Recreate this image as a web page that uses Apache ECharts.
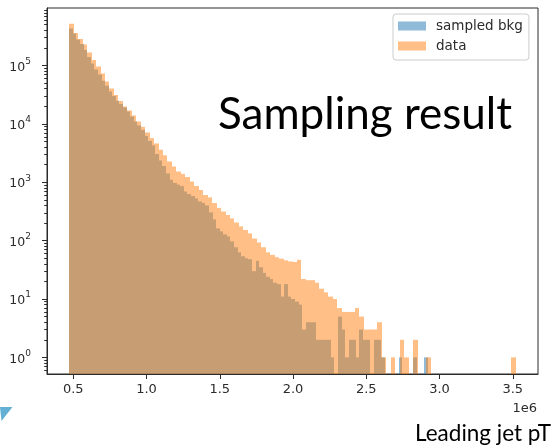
<!DOCTYPE html>
<html>
<head>
<meta charset="utf-8">
<script src="https://cdn.jsdelivr.net/npm/echarts@6/dist/echarts.min.js"></script>
<style>
  html, body { margin: 0; padding: 0; background: #ffffff; }
  #chart { width: 552px; height: 447px; }
</style>
</head>
<body>
<div id="chart"></div>
<script>
// Leading jet pT: sampled background vs. data, 100 bins each, log counts

const seriesNames = ['sampled bkg', 'data'];

// histogram ranges (x in units of pT); each sample is binned over its own range
const bkgRange = [473000, 2918000];
const dataRange = [473000, 3520000];

const bkgCounts = [
  430000, 353000, 279000, 233000, 184000, 140000, 108000, 85000, 70000, 55000,
  45000, 36000, 30000, 25000, 21900, 19000, 16300, 13400, 11000, 9400,
  7900, 6200, 5100, 4270, 3050, 2360, 1900, 1410, 1100, 973,
  910, 858, 695, 630, 582, 528, 469, 442, 401, 304,
  231, 162, 144, 128, 118, 97, 77, 63, 54, 50,
  48, 30, 45, 35, 28, 24, 22, 19, 18, 11,
  18, 11, 10, 9, 8, 3, 4, 4, 4, 2,
  2, 2, 2, 1, 0, 5, 3, 1, 2, 2,
  1, 3, 2, 2, 0, 2, 2, 1, 0, 0,
  0, 0, 1, 0, 0, 0, 1, 0, 0, 1
];

const dataCounts = [
  520000, 360000, 285000, 229000, 167000, 124000, 96000, 73000, 53000, 40400,
  31300, 24700, 19900, 17000, 13900, 11000, 8900, 7100, 5700, 4600,
  3600, 2900, 2270, 1860, 1530, 1390, 1230, 1030, 865, 738,
  606, 550, 443, 363, 316, 275, 240, 205, 175, 152,
  133, 109, 93, 77, 63, 57, 52, 49, 46, 44,
  43, 47, 22, 21, 21, 19, 15, 13, 11, 10,
  7, 6, 6, 6, 7, 5, 3, 3, 3, 4,
  1, 0, 1, 0, 2, 1, 0, 2, 0, 0,
  1, 0, 0, 0, 0, 0, 0, 0, 0, 0,
  0, 0, 0, 0, 0, 0, 0, 0, 0, 1
];

const xTickValues = [500000, 1000000, 1500000, 2000000, 2500000, 3000000, 3500000];
const yTickValues = [1, 10, 100, 1000, 10000, 100000];
const yMinorTickValues = [
  0.6, 0.7, 0.8, 0.9,
  2, 3, 4, 5, 6, 7, 8, 9,
  20, 30, 40, 50, 60, 70, 80, 90,
  200, 300, 400, 500, 600, 700, 800, 900,
  2000, 3000, 4000, 5000, 6000, 7000, 8000, 9000,
  20000, 30000, 40000, 50000, 60000, 70000, 80000, 90000,
  200000, 300000, 400000, 500000, 600000, 700000, 800000, 900000
];

// turn counts into [left edge, right edge, count] records
function toBins(range, counts) {
  const n = counts.length;
  const w = (range[1] - range[0]) / n;
  return counts.map((c, i) => [range[0] + i * w, range[0] + (i + 1) * w, c]);
}

function histRenderer(fill) {
  return function (params, api) {
    const c = api.value(2);
    if (!(c > 0)) return null;
    const a = api.coord([api.value(0), c]);
    const b = api.coord([api.value(1), c]);
    const cs = params.coordSys;
    const bottom = cs.y + cs.height;
    const x0 = Math.round(a[0]);
    const x1 = Math.round(b[0]);
    return {
      type: 'rect',
      silent: true,
      shape: { x: x0, y: a[1], width: x1 - x0, height: bottom - a[1] },
      style: { fill: fill }
    };
  };
}

const MPL_FONT = 'DejaVu Sans';
const INK = '#2b2b2b';

const chart = echarts.init(document.getElementById('chart'), null, { renderer: 'canvas' });

const xMin = 321000, xMax = 3672000;
const yMin = 0.519, yMax = 966000;

chart.setOption({
  animation: false,
  backgroundColor: '#ffffff',
  grid: {
    left: 47, right: 14, top: 8, bottom: 73,
    show: true, borderColor: INK, borderWidth: 1, backgroundColor: 'transparent'
  },
  legend: {
    orient: 'vertical',
    left: 393, top: 14,
    padding: [5, 6, 7, 5],
    itemGap: 6,
    itemWidth: 28, itemHeight: 9,
    icon: 'rect',
    backgroundColor: 'rgba(255,255,255,0.8)',
    borderColor: '#cccccc', borderWidth: 1, borderRadius: 3,
    textStyle: { fontFamily: MPL_FONT, fontSize: 13.5, color: INK, padding: [0, 0, 0, 5] },
    data: [
      { name: seriesNames[0], itemStyle: { color: '#8fbbd9' } },
      { name: seriesNames[1], itemStyle: { color: '#ffbf86' } }
    ],
    selectedMode: false
  },
  xAxis: {
    type: 'value',
    min: xMin, max: xMax,
    splitLine: { show: false },
    axisLine: { show: true, lineStyle: { color: INK, width: 1 } },
    axisTick: { show: true, length: 5, lineStyle: { color: INK, width: 1 }, customValues: xTickValues },
    axisLabel: {
      customValues: xTickValues,
      margin: 9,
      fontFamily: MPL_FONT, fontSize: 13, color: INK,
      formatter: v => (v / 1e6).toFixed(1)
    }
  },
  yAxis: [
    {
      type: 'log', logBase: 10,
      min: yMin, max: yMax,
      position: 'left',
      splitLine: { show: false },
      axisLine: { show: true, lineStyle: { color: INK, width: 1 } },
      axisTick: { show: true, length: 5, lineStyle: { color: INK, width: 1 }, customValues: yTickValues },
      axisLabel: {
        customValues: yTickValues,
        margin: 16,
        color: INK,
        formatter: v => '{b|10}{s|' + Math.round(Math.log10(v)) + '}',
        rich: {
          b: { fontFamily: MPL_FONT, fontSize: 12.5, color: INK, lineHeight: 17, verticalAlign: 'bottom' },
          s: { fontFamily: MPL_FONT, fontSize: 9, color: INK, lineHeight: 10, verticalAlign: 'top' }
        }
      }
    },
    {
      type: 'log', logBase: 10,
      min: yMin, max: yMax,
      position: 'left',
      splitLine: { show: false },
      axisLine: { show: false },
      axisLabel: { show: false },
      axisTick: { show: true, length: 2.8, lineStyle: { color: INK, width: 1 }, customValues: yMinorTickValues }
    }
  ],
  series: [
    {
      name: seriesNames[0],
      type: 'custom',
      renderItem: histRenderer('rgba(31,119,180,0.5)'),
      encode: { x: [0, 1], y: 2 },
      data: toBins(bkgRange, bkgCounts),
      z: 2
    },
    {
      name: seriesNames[1],
      type: 'custom',
      renderItem: histRenderer('rgba(255,127,14,0.5)'),
      encode: { x: [0, 1], y: 2 },
      data: toBins(dataRange, dataCounts),
      z: 3
    }
  ],
  graphic: [
    {
      type: 'text', x: 218, y: 115, z: 10,
      style: { text: 'Sampling result', font: '44px Lato', fill: '#000000', align: 'left', verticalAlign: 'middle' }
    },
    {
      type: 'text', x: 537, y: 409, z: 10,
      style: { text: '1e6', font: '13px "DejaVu Sans"', fill: INK, align: 'right', verticalAlign: 'middle' }
    },
    {
      type: 'text', x: 551, y: 434, z: 10,
      style: { text: 'Leading jet pT', font: '22.5px Lato', fill: '#000000', align: 'right', verticalAlign: 'middle' }
    },
    {
      type: 'polygon', z: 10,
      shape: { points: [[0, 407], [12.5, 407], [1.5, 421]] },
      style: { fill: '#63b0d4' }
    }
  ]
});
</script>
</body>
</html>
